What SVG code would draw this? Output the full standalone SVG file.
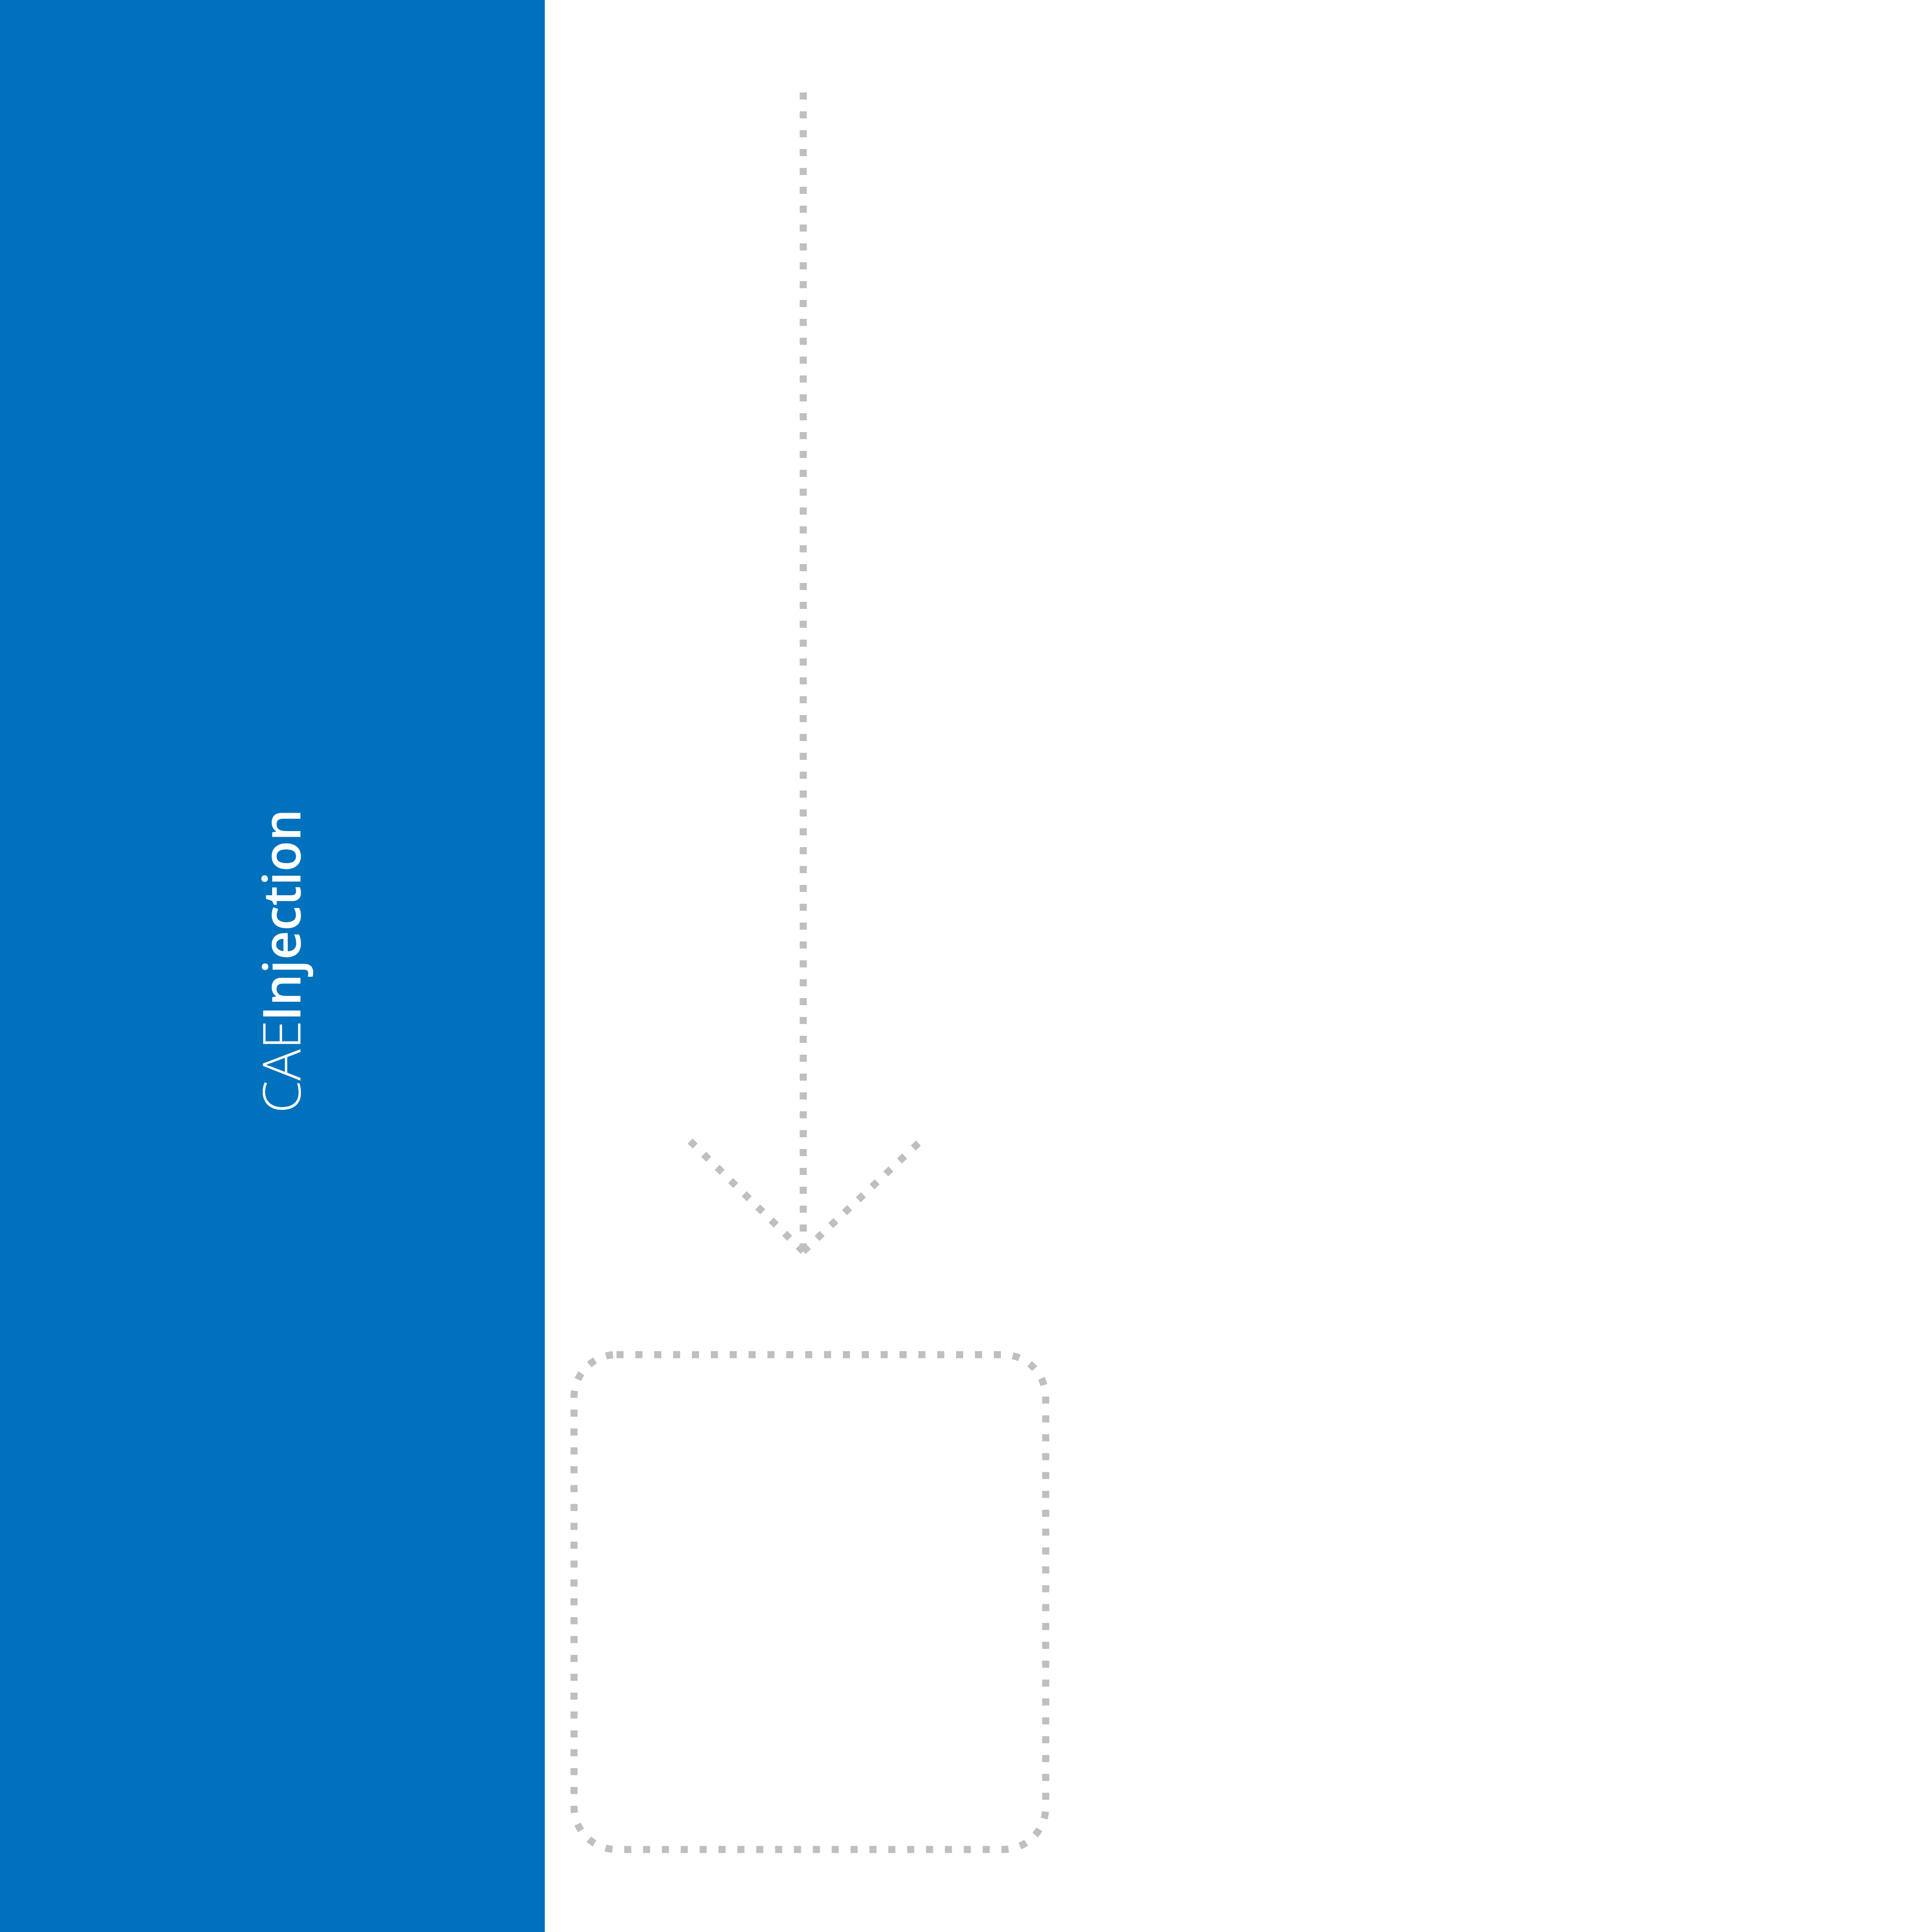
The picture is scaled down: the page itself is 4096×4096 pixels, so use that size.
<svg xmlns="http://www.w3.org/2000/svg" width="4096" height="4096" viewBox="0 0 4096 4096">
<style>
.dot{fill:none;stroke:#BFBFBF;stroke-width:15;stroke-dasharray:15 25}
.lbl{fill:#FFFFFF;font-family:"Open Sans","Liberation Sans",sans-serif;font-size:111px}
</style>
<rect x="0" y="0" width="4096" height="4096" fill="#FFFFFF"/>
<g id="sidebar">
<rect x="0" y="0" width="1155" height="4096" fill="#0071BC"/>
<g transform="translate(637,2360) rotate(-90)">
<text class="lbl" x="0" y="0" font-weight="300">CAE</text>
<text class="lbl" x="195" y="0" font-weight="600" textLength="450" lengthAdjust="spacingAndGlyphs">Injection</text>
</g>
</g>
<g id="connectors">
<path class="dot" d="M1703,196 L1703,2653"/>
<path class="dot" d="M1703,2653 L1463,2419 M1703,2653 L1952,2419"/>
</g>
<g id="node-box">
<rect class="dot" x="1217" y="2872" width="1000" height="1049" rx="90" ry="90"/>
</g>
</svg>
